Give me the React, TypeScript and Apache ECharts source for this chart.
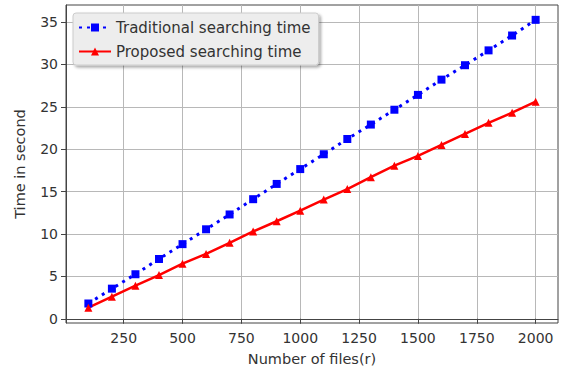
import React, { useEffect, useRef } from "react";
import * as echarts from "echarts";

const files = [100, 200, 300, 400, 500, 600, 700, 800, 900, 1000, 1100, 1200, 1300, 1400, 1500, 1600, 1700, 1800, 1900, 2000];
const traditional = [1.8, 3.55, 5.25, 7.05, 8.8, 10.55, 12.3, 14.1, 15.9, 17.65, 19.4, 21.2, 22.9, 24.65, 26.4, 28.2, 29.9, 31.65, 33.4, 35.25];
const proposed = [1.3, 2.6, 3.9, 5.15, 6.5, 7.65, 8.95, 10.3, 11.5, 12.75, 14.05, 15.3, 16.7, 18.05, 19.2, 20.5, 21.8, 23.1, 24.3, 25.6];
const xTicks = [250, 500, 750, 1000, 1250, 1500, 1750, 2000];
const yTicks = [0, 5, 10, 15, 20, 25, 30, 35];

const FONT = "DejaVu Sans";
const TXT = "#333333";

export default function App() {
  const ref = useRef<HTMLDivElement>(null);
  useEffect(() => {
    const chart = echarts.init(ref.current!, null, { renderer: "svg" });
    chart.setOption({
      animation: false,
      backgroundColor: "#ffffff",
      textStyle: { fontFamily: FONT },
      grid: {
        left: 66, right: 7, top: 5, bottom: 47,
        show: true, borderColor: "#444", borderWidth: 1, backgroundColor: "#fff",
      },
      legend: {
        orient: "vertical",
        left: 73, top: 13,
        itemWidth: 32, itemHeight: 10, itemGap: 9,
        backgroundColor: "#ededed",
        borderColor: "#cccccc", borderWidth: 1, borderRadius: 3,
        padding: [7, 8, 6, 5],
        shadowColor: "rgba(0,0,0,0.35)", shadowBlur: 3, shadowOffsetX: 2, shadowOffsetY: 2,
        textStyle: { fontFamily: FONT, fontSize: 15, color: TXT },
        data: ["Traditional searching time", "Proposed searching time"],
      },
      xAxis: {
        type: "value", min: 5, max: 2095,
        name: "Number of files(r)", nameLocation: "middle", nameGap: 28,
        nameTextStyle: { fontFamily: FONT, fontSize: 14.5, color: TXT },
        axisLine: { show: true, lineStyle: { color: "#444" } },
        axisTick: { show: true, length: 5, customValues: xTicks, lineStyle: { color: "#444" } },
        axisLabel: { customValues: xTicks, formatter: (v: number) => String(v), fontFamily: FONT, fontSize: 14, color: TXT, margin: 8 },
        splitLine: { show: true, lineStyle: { color: "#b8b8b8", width: 1 } },
      },
      yAxis: {
        type: "value", min: -0.5, max: 37,
        name: "Time in second", nameLocation: "middle", nameGap: 39, nameRotate: 90,
        nameTextStyle: { fontFamily: FONT, fontSize: 14.5, color: TXT },
        axisLine: { show: true, lineStyle: { color: "#444" } },
        axisTick: { show: true, length: 5, customValues: yTicks, lineStyle: { color: "#444" } },
        axisLabel: { customValues: yTicks, formatter: (v: number) => String(v), fontFamily: FONT, fontSize: 14, color: TXT, margin: 8 },
        splitLine: { show: true, lineStyle: { color: "#b8b8b8", width: 1 } },
      },
      series: [
        {
          name: "Traditional searching time",
          type: "line",
          data: files.map((f, i) => [f, traditional[i]]),
          symbol: "rect", symbolSize: 8,
          itemStyle: { color: "#0000ff" },
          lineStyle: { color: "#0000ff", width: 3, type: [3, 5] },
        },
        {
          name: "Proposed searching time",
          type: "line",
          data: files.map((f, i) => [f, proposed[i]]),
          symbol: "triangle", symbolSize: 8,
          itemStyle: { color: "#ff0000" },
          lineStyle: { color: "#ff0000", width: 2.5 },
        },
      ],
    });
    return () => chart.dispose();
  }, []);
  return <div ref={ref} style={{ position: "fixed", left: 0, top: 0, width: 565, height: 371 }} />;
}
